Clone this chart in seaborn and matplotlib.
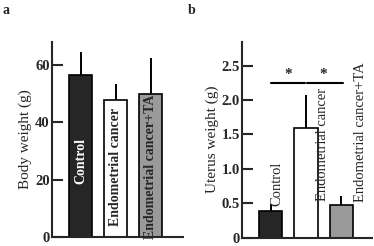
import pandas as pd
import seaborn as sns
import matplotlib.pyplot as plt

sns.set_style("ticks")
plt.rcParams.update({"font.family": ["Liberation Serif", "DejaVu Serif"],
                     "font.weight": "bold", "font.size": 9})

groups = ["Control", "Endometrial cancer", "Endometrial cancer+TA"]
colors = ["#262626", "#ffffff", "#9a9a9a"]
body_weight = [56.3, 47.8, 49.9]
body_weight_sd = [8.0, 5.5, 12.4]
uterus_weight = [0.39, 1.60, 0.47]
uterus_weight_sd = [0.10, 0.47, 0.13]

fig = plt.figure(figsize=(3.74, 2.46), dpi=100)
ax_a = fig.add_axes([0.138, 0.036, 0.351, 0.795])
ax_b = fig.add_axes([0.647, 0.034, 0.348, 0.797])


def draw(ax, values, errs):
    df = pd.DataFrame({"group": groups, "value": values})
    sns.barplot(data=df, x="group", y="value", hue="group", palette=colors,
                edgecolor="k", linewidth=1.2, width=0.66, ax=ax, legend=False,
                zorder=2)
    ax.errorbar(range(len(values)), values, yerr=[[0] * len(errs), errs],
                fmt="none", ecolor="k", elinewidth=1.4, capsize=0, zorder=1)
    sns.despine(ax=ax)
    for s in ["left", "bottom"]:
        ax.spines[s].set_linewidth(1.5)
    ax.tick_params(axis="y", direction="in", length=8, width=1.5, pad=1.5,
                   labelsize=10.5)
    ax.tick_params(axis="x", length=0, labelbottom=False)
    ax.set_xlabel("")


# panel a
draw(ax_a, body_weight, body_weight_sd)
ax_a.set_xlim(-0.835, 2.92)
ax_a.set_ylim(0, 68)
ax_a.set_yticks([0, 20, 40, 60])
ax_a.set_ylabel("Body weight (g)", fontsize=11, labelpad=2)
ax_a.text(0, 26.5, groups[0], rotation=90, ha="center", va="center",
          color="white", fontsize=10)
ax_a.text(1, 24.4, groups[1], rotation=90, ha="center", va="center",
          fontsize=10)
ax_a.text(2, 24.6, groups[2], rotation=90, ha="center", va="center",
          fontsize=10)

# panel b
draw(ax_b, uterus_weight, uterus_weight_sd)
ax_b.set_xlim(-0.815, 2.88)
ax_b.set_ylim(0, 2.85)
ax_b.set_yticks([0, 0.5, 1.0, 1.5, 2.0, 2.5])
ax_b.set_yticklabels(["0", "0.5", "1.0", "1.5", "2.0", "2.5"])
ax_b.set_ylabel("Uterus weight (g)", fontsize=11, labelpad=2)
ax_b.text(0.18, 0.46, groups[0], rotation=90, ha="center", va="bottom",
          fontsize=10.5, fontweight="normal")
ax_b.text(1.48, 0.53, groups[1], rotation=90, ha="center", va="bottom",
          fontsize=10.5, fontweight="normal")
ax_b.text(2.55, 0.52, groups[2], rotation=90, ha="center", va="bottom",
          fontsize=10.5, fontweight="normal")
ax_b.plot([0, 0.98], [2.25, 2.25], color="k", lw=1.5, clip_on=False)
ax_b.plot([1.04, 2.04], [2.25, 2.25], color="k", lw=1.5, clip_on=False)
ax_b.text(0.5, 2.28, "*", ha="center", va="bottom", fontsize=11)
ax_b.text(1.5, 2.28, "*", ha="center", va="bottom", fontsize=11)

fig.text(0.008, 0.985, "a", ha="left", va="top", fontsize=10)
fig.text(0.503, 0.985, "b", ha="left", va="top", fontsize=10)

fig.savefig("out.png", dpi=100)
